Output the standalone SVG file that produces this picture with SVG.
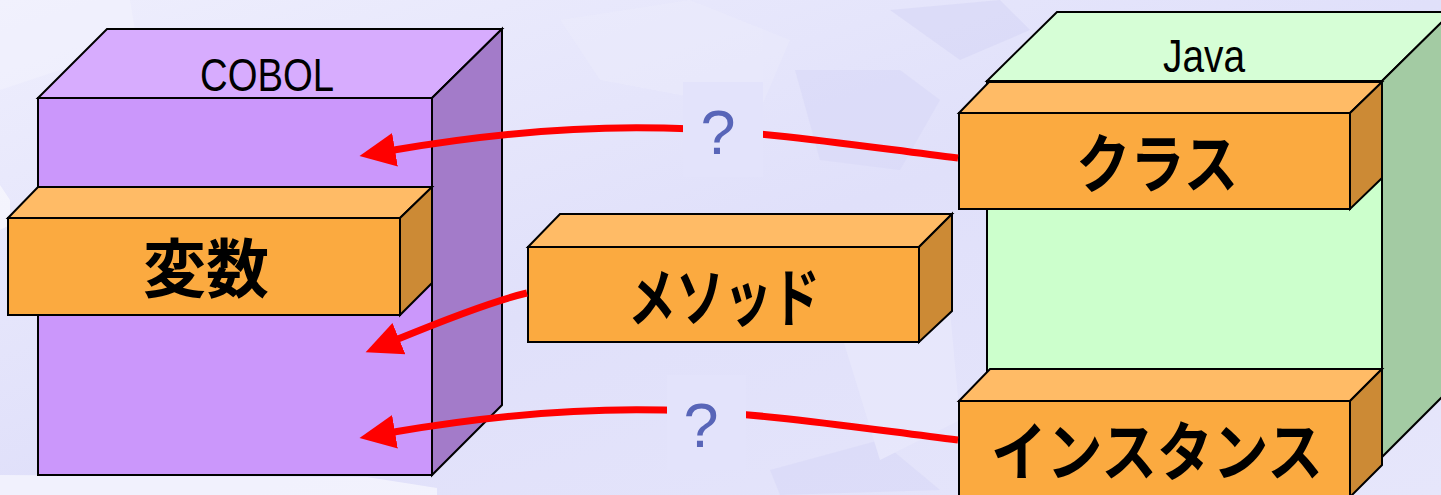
<svg xmlns="http://www.w3.org/2000/svg" width="1441" height="495" viewBox="0 0 1441 495">
<defs>
<linearGradient id="bg" x1="0" y1="0" x2="1" y2="1">
<stop offset="0" stop-color="#eeeefd"/>
<stop offset="0.5" stop-color="#e0e0fa"/>
<stop offset="1" stop-color="#e6e6fb"/>
</linearGradient>
<marker id="ah" markerUnits="userSpaceOnUse" markerWidth="40" markerHeight="40" viewBox="0 -20 40 40" refX="1" refY="0" orient="auto">
<path d="M0,-17 L36,0 L0,17 z" fill="#ff0000"/>
</marker>
<style>
.edge{stroke:#000;stroke-width:2;stroke-linejoin:miter}
.ptop{fill:#d7acfe}.pfront{fill:#cb97fb}.pside{fill:#a37bc9}
.gtop{fill:#d6fed6}.gfront{fill:#ccffcc}.gside{fill:#a3cba3}
.otop{fill:#ffbb66}.ofront{fill:#fbaa40}.oside{fill:#cc8a35}
.lat{font-family:"Liberation Sans",Arial,sans-serif;font-size:46px;fill:#000}
.jp{font-family:"Noto Sans CJK JP","Noto Sans CJK SC",sans-serif;font-size:64px;font-weight:bold;fill:#000;text-anchor:middle}
.conn{fill:none;stroke:#ff0000;stroke-width:7;marker-end:url(#ah)}
.q{font-family:"Liberation Sans",Arial,sans-serif;font-size:63px;fill:#5865b8;text-anchor:middle}
.qbg{fill:#e3e3fb}
</style>
</defs>
<rect width="1441" height="495" fill="url(#bg)"/>
<g id="background" opacity="0.55">
<polygon points="0,0 130,0 140,60 60,70 0,90" fill="#f4f4fe"/>
<polygon points="0,185 10,200 10,225 0,230" fill="#ffffff"/>
<polygon points="0,475 367,477 437,488 437,495 0,495" fill="#ffffff"/>
<polygon points="560,20 690,0 790,40 760,110 600,80" fill="#ebebfc"/>
<polygon points="795,70 900,70 940,100 900,170 820,160" fill="#d8d8f8"/>
<polygon points="890,10 1000,0 1030,30 960,60" fill="#d6d6f6"/>
<polygon points="770,470 880,440 940,490 780,495" fill="#d8d8f8"/>
<polygon points="840,330 950,310 960,420 880,460" fill="#ececfd"/>
</g>
<g id="cobol">
<polygon class="ptop edge" points="38,98 107,29 502,29 432,98"/>
<polygon class="pside edge" points="432,98 502,29 502,405 432,475"/>
<rect class="pfront edge" x="38" y="98" width="394" height="377"/>
<text class="lat" x="200" y="91" textLength="134" lengthAdjust="spacingAndGlyphs">COBOL</text>
</g>
<g id="hensu">
<polygon class="otop edge" points="8,218 38,187 432,187 400,218"/>
<polygon class="oside edge" points="400,218 432,187 432,283 400,315"/>
<rect class="ofront edge" x="8" y="218" width="392" height="97"/>
<text class="jp" x="206" y="292" textLength="126" lengthAdjust="spacingAndGlyphs">変数</text>
</g>
<g id="method">
<polygon class="otop edge" points="528,247 560,214 952,214 919,247"/>
<polygon class="oside edge" points="919,247 952,214 952,311 919,342"/>
<rect class="ofront edge" x="528" y="247" width="391" height="95"/>
<text class="jp" x="724" y="321" textLength="192" lengthAdjust="spacingAndGlyphs">メソッド</text>
</g>
<g id="java">
<polygon class="gtop edge" points="987,81 1057,12 1452,12 1382,81"/>
<polygon class="gside edge" points="1382,81 1452,12 1452,387 1382,457"/>
<rect class="gfront edge" x="987" y="81" width="395" height="376"/>
<text class="lat" x="1163" y="72" textLength="82" lengthAdjust="spacingAndGlyphs">Java</text>
</g>
<g id="class">
<polygon class="otop edge" points="959,113 989,82 1382,82 1350,113"/>
<polygon class="oside edge" points="1350,113 1382,82 1382,178 1350,209"/>
<rect class="ofront edge" x="959" y="113" width="391" height="96"/>
<text class="jp" x="1157" y="187" textLength="162" lengthAdjust="spacingAndGlyphs">クラス</text>
</g>
<g id="instance">
<polygon class="otop edge" points="959,401 990,369 1382,369 1350,401"/>
<polygon class="oside edge" points="1350,401 1382,369 1382,465 1350,497"/>
<rect class="ofront edge" x="959" y="401" width="391" height="97"/>
<text class="jp" x="1157" y="475" textLength="332" lengthAdjust="spacingAndGlyphs">インスタンス</text>
</g>
<g id="connectors">
<path class="conn" d="M958,158 C763,134 639,108 394,150"/>
<path class="conn" d="M527,293 Q488,302 398,339"/>
<path class="conn" d="M958,440 C763,416 639,390 394,432"/>
<rect class="qbg" x="683" y="82" width="80" height="95"/>
<text class="q" x="718" y="154">?</text>
<rect class="qbg" x="667" y="375" width="79" height="95"/>
<text class="q" x="701" y="447">?</text>
</g>
</svg>
